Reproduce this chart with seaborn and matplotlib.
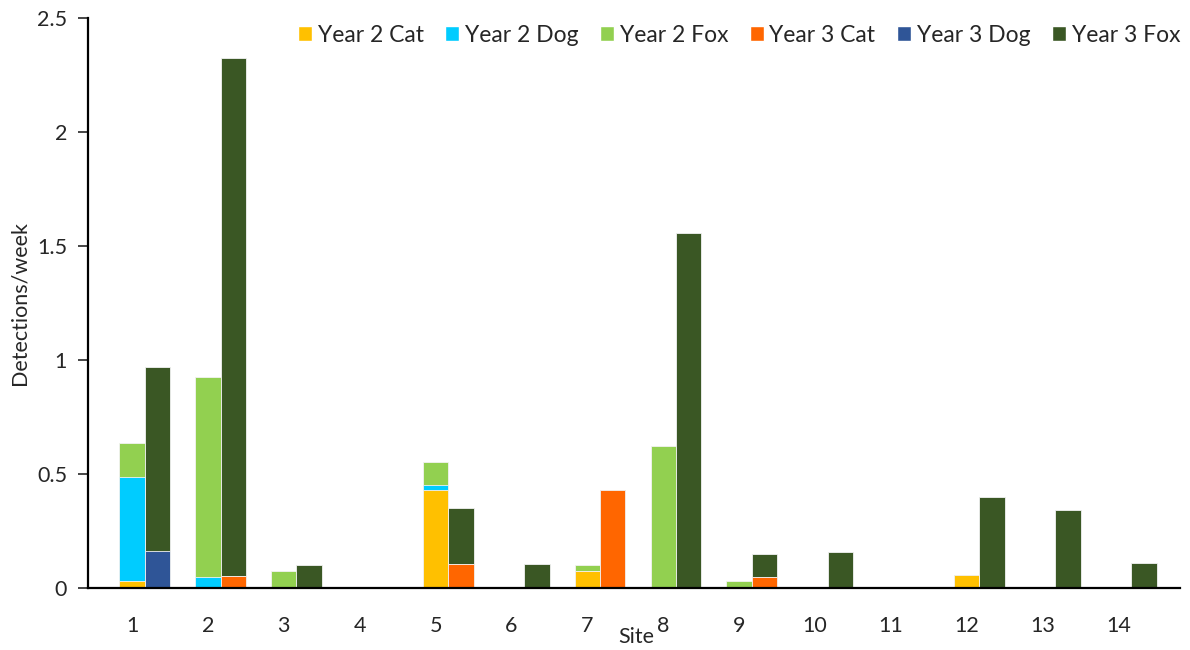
import numpy as np
import pandas as pd
import seaborn as sns
import matplotlib.pyplot as plt
from matplotlib.patches import Patch

# detections per week, sites 1-14
sites = [str(i) for i in range(1, 15)]
y2_cat = [0.03, 0, 0, 0, 0.43, 0, 0.075, 0, 0, 0, 0, 0.055, 0, 0]
y2_dog = [0.455, 0.048, 0, 0, 0.022, 0, 0, 0, 0, 0, 0, 0, 0, 0]
y2_fox = [0.15, 0.876, 0.073, 0, 0.102, 0, 0.025, 0.623, 0.032, 0, 0, 0, 0, 0]
y3_cat = [0, 0.051, 0, 0, 0.105, 0, 0.43, 0, 0.048, 0, 0, 0, 0, 0]
y3_dog = [0.162, 0, 0, 0, 0, 0, 0, 0, 0, 0, 0, 0, 0, 0]
y3_fox = [0.808, 2.272, 0.1, 0, 0.245, 0.105, 0, 1.555, 0.101, 0.157, 0, 0.398, 0.341, 0.111]

years = ['Year 2', 'Year 3']
colores = {
    'Year 2': {'Cat': '#FFC000', 'Dog': '#00CCFF', 'Fox': '#92D050'},
    'Year 3': {'Cat': '#FF6600', 'Dog': '#2F5597', 'Fox': '#3A5724'},
}

df = pd.DataFrame({
    'Site': sites * 2,
    'Year': ['Year 2'] * 14 + ['Year 3'] * 14,
    'Cat': y2_cat + y3_cat,
    'Dog': y2_dog + y3_dog,
    'Fox': y2_fox + y3_fox,
})
# acumulados para apilar
df['Cat_top'] = df['Cat']
df['Dog_top'] = df['Cat'] + df['Dog']
df['Fox_top'] = df['Cat'] + df['Dog'] + df['Fox']

sns.set_style('ticks')
plt.rcParams['font.family'] = ['Lato', 'DejaVu Sans']

fig = plt.figure(figsize=(11.9, 6.5), dpi=100)
ax = fig.add_axes([88 / 1190, 62 / 650, 1092 / 1190, 570 / 650])

ancho = 0.67
for especie in ['Fox', 'Dog', 'Cat']:
    sns.barplot(data=df, x='Site', y=especie + '_top', hue='Year', hue_order=years,
                palette={y: colores[y][especie] for y in years}, order=sites,
                width=ancho, dodge=True, gap=0, saturation=1,
                edgecolor='#F2F2F2', linewidth=0.6, legend=False, ax=ax)

pos = np.arange(14)
ax.set_xticks(pos - ancho / 4, sites)
ax.set_xlim(-ancho / 4 - 0.58, 13 - ancho / 4 + 0.81)
ax.set_ylim(0, 2.5)
ax.set_yticks([0, 0.5, 1, 1.5, 2, 2.5], ['0', '0.5', '1', '1.5', '2', '2.5'])

ax.tick_params(axis='x', length=0, pad=20, labelsize=15.5)
ax.tick_params(axis='y', length=7, width=1.2, pad=8, labelsize=15.5, direction='out')
sns.despine(ax=ax)
for lado in ['left', 'bottom']:
    ax.spines[lado].set_linewidth(1.6)
    ax.spines[lado].set_color('black')

ax.set_xlabel('Site', fontsize=15.5)
ax.xaxis.set_label_coords(0.502, -0.068)
ax.set_ylabel('Detections/week', fontsize=15.5)
ax.yaxis.set_label_coords(-0.054, 0.5)

handles = []
for y in years:
    for especie in ['Cat', 'Dog', 'Fox']:
        handles.append(Patch(facecolor=colores[y][especie], label=f'{y} {especie}'))
ax.legend(handles=handles, ncol=6, loc='center right', bbox_to_anchor=(1.0, 0.97),
          frameon=False, fontsize=16.5, handlelength=0.6, handleheight=0.6,
          handletextpad=0.25, columnspacing=0.95, borderpad=0, borderaxespad=0)

plt.savefig('out.png', dpi=100)
